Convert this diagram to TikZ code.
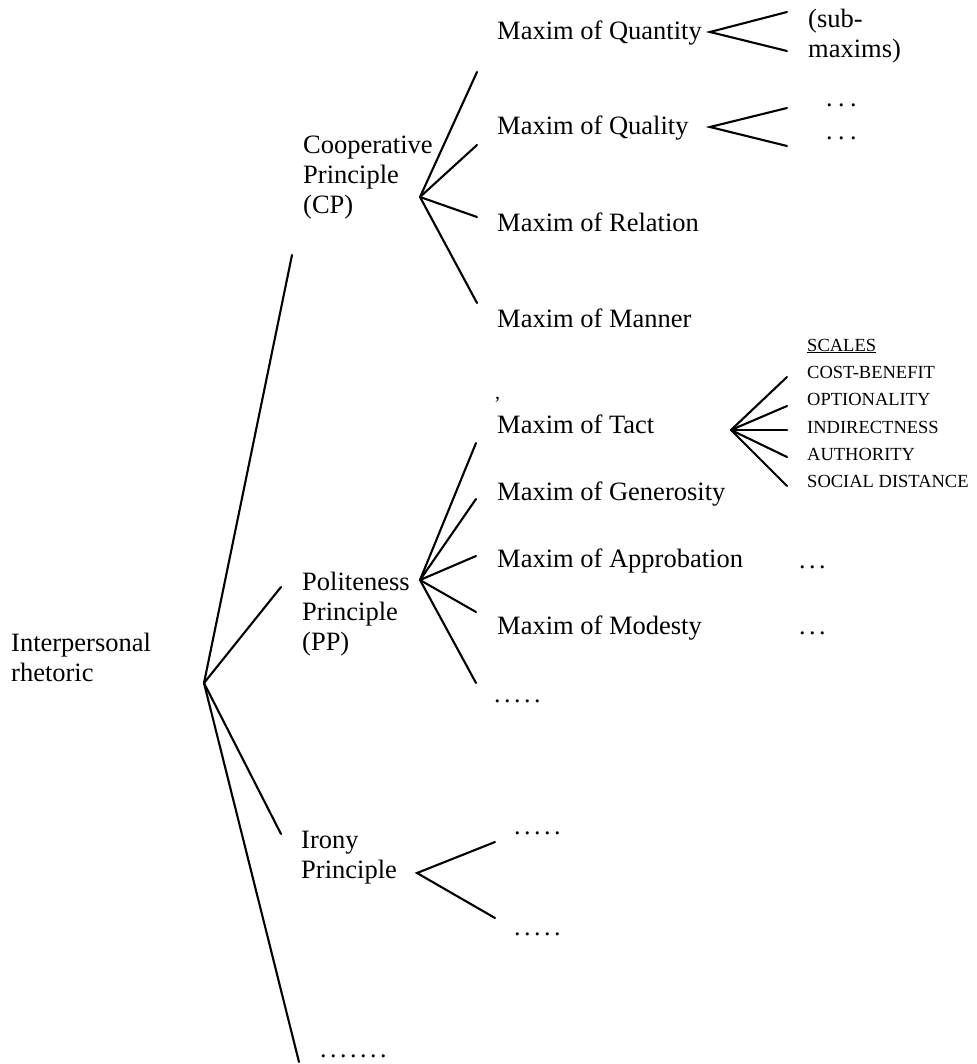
\documentclass[tikz,border=0pt]{standalone}
\usepackage{fontspec}
\setmainfont{Liberation Serif}
% spacing between the dots of a dotted filler
\newcommand{\dg}{\hspace{3.5pt}}
\newcommand{\dgw}{\hspace{5.5pt}}
\begin{document}
\begin{tikzpicture}[x=1pt,y=-1pt,
  branch/.style={line width=2.1pt, line cap=round},
  lbl/.style={anchor=base west, inner sep=0pt, font=\fontsize{26.5}{30}\selectfont},
  scaleitem/.style={anchor=base west, inner sep=0pt, font=\fontsize{18.5}{27}\selectfont},
  filler/.style={anchor=base west, inner sep=0pt, font=\fontsize{26}{30}\selectfont}]
\useasboundingbox (0,0) rectangle (976,1064);

% ---- root ----
\node[lbl] (root) at (11,651) {\begin{tabular}[t]{@{}l@{}}Interpersonal\\rhetoric\end{tabular}};
\coordinate (root-hub) at (204,683);
\coordinate (to-cp) at (292,255);
\coordinate (to-pp) at (281,587);
\coordinate (to-irony) at (281,834);
\coordinate (to-more) at (299,1062);
\draw[branch] (root-hub) -- (to-cp);
\draw[branch] (root-hub) -- (to-pp);
\draw[branch] (root-hub) -- (to-irony);
\draw[branch] (root-hub) -- (to-more);
\node[filler] (more) at (320,1057) {.\dg.\dg.\dg.\dg.\dg.\dg.};

% ---- Cooperative Principle ----
\node[lbl] (cp) at (303,154) {\begin{tabular}[t]{@{}l@{}}Cooperative\\Principle\\(CP)\end{tabular}};
\coordinate (cp-hub) at (420,197);
\coordinate (cp-a) at (477,72);
\coordinate (cp-b) at (477,145);
\coordinate (cp-c) at (477,217);
\coordinate (cp-d) at (477,303);
\foreach \e in {cp-a,cp-b,cp-c,cp-d} \draw[branch] (cp-hub) -- (\e);

\node[lbl] (quantity) at (497,40) {Maxim of Quantity};
\node[lbl] (quality) at (497,135) {Maxim of Quality};
\node[lbl] (relation) at (497,232) {Maxim of Relation};
\node[lbl] (manner) at (497,327) {Maxim of Manner};

% sub-maxims of Quantity
\coordinate (qn-hub) at (710,32);
\coordinate (qn-a) at (787,12);
\coordinate (qn-b) at (787,51);
\draw[branch] (qn-a) -- (qn-hub) -- (qn-b);
\node[lbl] (submax) at (808,28) {\begin{tabular}[t]{@{}l@{}}(sub-\\maxims)\end{tabular}};

% sub-maxims of Quality
\coordinate (ql-hub) at (710,127);
\coordinate (ql-a) at (787,108);
\coordinate (ql-b) at (787,146);
\draw[branch] (ql-a) -- (ql-hub) -- (ql-b);
\node[filler] (ql-dots-a) at (826,107) {.\dgw.\dgw.};
\node[filler] (ql-dots-b) at (826,140) {.\dgw.\dgw.};

% ---- Politeness Principle ----
\node[lbl] (pp) at (302,590) {\begin{tabular}[t]{@{}l@{}}Politeness\\Principle\\(PP)\end{tabular}};
\coordinate (pp-hub) at (420,580);
\coordinate (pp-a) at (476,443);
\coordinate (pp-b) at (476,499);
\coordinate (pp-c) at (476,556);
\coordinate (pp-d) at (476,612);
\coordinate (pp-e) at (476,683);
\foreach \e in {pp-a,pp-b,pp-c,pp-d,pp-e} \draw[branch] (pp-hub) -- (\e);

\node[anchor=base west, inner sep=0pt, font=\fontsize{20}{24}\selectfont] (tick) at (494,410) {’};
\node[lbl] (tact) at (497,433) {Maxim of Tact};
\node[lbl] (generosity) at (497,500) {Maxim of Generosity};
\node[lbl] (approbation) at (497,567) {Maxim of Approbation};
\node[lbl] (modesty) at (497,634) {Maxim of Modesty};
\node[filler] (pp-more) at (494,702) {.\dg.\dg.\dg.\dg.};
\node[filler] (appr-dots) at (799,568) {.\dg.\dg.};
\node[filler] (mod-dots) at (799,634) {.\dg.\dg.};

% scales of the Tact maxim
\coordinate (tact-hub) at (731,430);
\coordinate (sc-a) at (787,377);
\coordinate (sc-b) at (787,406);
\coordinate (sc-c) at (787,430);
\coordinate (sc-d) at (787,457);
\coordinate (sc-e) at (787,486);
\foreach \e in {sc-a,sc-b,sc-c,sc-d,sc-e} \draw[branch] (tact-hub) -- (\e);
\node[scaleitem] (scales) at (807,351) {\underline{SCALES}};
\node[scaleitem] (costbenefit) at (807,378) {COST-BENEFIT};
\node[scaleitem] (optionality) at (807,405) {OPTIONALITY};
\node[scaleitem] (indirectness) at (807,433) {INDIRECTNESS};
\node[scaleitem] (authority) at (807,460) {AUTHORITY};
\node[scaleitem] (socialdist) at (807,487) {SOCIAL DISTANCE};

% ---- Irony Principle ----
\node[lbl] (irony) at (301,848) {\begin{tabular}[t]{@{}l@{}}Irony\\Principle\end{tabular}};
\coordinate (ir-hub) at (417,873);
\coordinate (ir-a) at (495,842);
\coordinate (ir-b) at (495,918);
\draw[branch] (ir-a) -- (ir-hub) -- (ir-b);
\node[filler] (ir-dots-a) at (514,834) {.\dg.\dg.\dg.\dg.};
\node[filler] (ir-dots-b) at (514,935) {.\dg.\dg.\dg.\dg.};
\end{tikzpicture}
\end{document}
